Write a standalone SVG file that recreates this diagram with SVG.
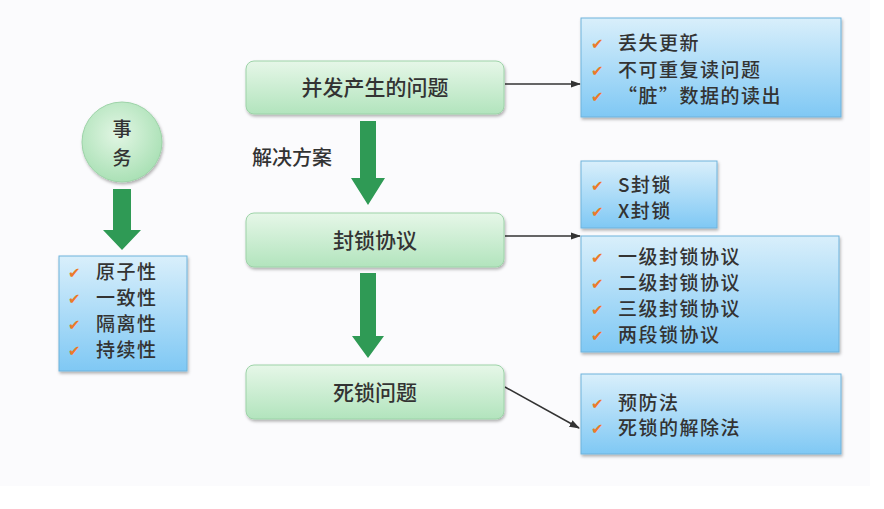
<svg xmlns="http://www.w3.org/2000/svg" width="884" height="509" viewBox="0 0 884 509">
<defs>
  <linearGradient id="gGreen" x1="0" y1="0" x2="0" y2="1">
    <stop offset="0" stop-color="#e6f7e8"/>
    <stop offset="1" stop-color="#b2e4bd"/>
  </linearGradient>
  <linearGradient id="gBlue" x1="0" y1="0" x2="0" y2="1">
    <stop offset="0" stop-color="#d9effb"/>
    <stop offset="1" stop-color="#7fc8f4"/>
  </linearGradient>
  <radialGradient id="gCircle" cx="0.45" cy="0.4" r="0.65">
    <stop offset="0" stop-color="#e2f6e4"/>
    <stop offset="1" stop-color="#a6dfb2"/>
  </radialGradient>
  <filter id="shadow" x="-10%" y="-10%" width="125%" height="130%">
    <feDropShadow dx="1" dy="2" stdDeviation="1.5" flood-color="#000" flood-opacity="0.3"/>
  </filter>
  <marker id="arrow" viewBox="0 0 10 10" refX="9" refY="5" markerWidth="7" markerHeight="7" orient="auto">
    <path d="M0,1.5 L10,5 L0,8.5 z" fill="#333"/>
  </marker>
</defs>
<style>
  .bg { fill: #fbfbfd; }
  .gbox { fill: url(#gGreen); stroke: #9dd3a8; stroke-width: 1; filter: url(#shadow); }
  .bbox { fill: url(#gBlue); stroke: #6fb3dc; stroke-width: 1; filter: url(#shadow); }
  .txt { font-family: "Noto Sans CJK SC", "Liberation Sans", sans-serif; fill: #333; font-weight: 500; }
  .title { font-size: 21px; text-anchor: middle; }
  .item { font-size: 19px; letter-spacing: 1.5px; }
  .chk { font-family: "DejaVu Sans", sans-serif; font-size: 15px; fill: #ec7a2a; }
  .garrow { fill: #2f9a55; }
  .line { stroke: #333; stroke-width: 1.5; fill: none; marker-end: url(#arrow); }
</style>
<rect x="0" y="0" width="884" height="509" fill="#ffffff"/>
<rect class="bg" x="0" y="0" width="870" height="486"/>

<g id="connectors">
  <line class="line" x1="505" y1="84" x2="580" y2="84"/>
  <line class="line" x1="505" y1="236" x2="580" y2="236"/>
  <line class="line" x1="505" y1="387" x2="579" y2="428"/>
  <path class="garrow" d="M113,189 H131 V230 H141 L122,250 L103,230 H113 Z"/>
  <path class="garrow" d="M360,121 H376 V178 H385 L368,205 L351,178 H360 Z"/>
  <path class="garrow" d="M360,273 H376 V336 H384 L368,358 L352,336 H360 Z"/>
  <text class="txt" x="252" y="165" font-size="20">解决方案</text>
</g>

<g id="node-transaction">
  <circle cx="122" cy="142" r="40" fill="url(#gCircle)" stroke="#9dd3a8" stroke-width="1" filter="url(#shadow)"/>
  <text class="txt" x="122" y="136" font-size="19" text-anchor="middle">事</text>
  <text class="txt" x="122" y="165" font-size="19" text-anchor="middle">务</text>
</g>

<g id="node-acid">
  <rect class="bbox" x="59" y="256" width="128" height="115"/>
  <text class="chk" x="68" y="278">✔</text><text class="txt item" x="96" y="279">原子性</text>
  <text class="chk" x="68" y="304">✔</text><text class="txt item" x="96" y="305">一致性</text>
  <text class="chk" x="68" y="330">✔</text><text class="txt item" x="96" y="331">隔离性</text>
  <text class="chk" x="68" y="356">✔</text><text class="txt item" x="96" y="357">持续性</text>
</g>

<g id="node-concurrency">
  <rect class="gbox" x="246" y="61" width="258" height="53" rx="8"/>
  <text class="txt title" x="375" y="95">并发产生的问题</text>
</g>

<g id="node-problems">
  <rect class="bbox" x="581" y="18" width="260" height="99"/>
  <text class="chk" x="591" y="49">✔</text><text class="txt item" x="618" y="50">丢失更新</text>
  <text class="chk" x="591" y="76">✔</text><text class="txt item" x="618" y="77">不可重复读问题</text>
  <text class="chk" x="591" y="102">✔</text><text class="txt item" x="618" y="103">“脏”数据的读出</text>
</g>

<g id="node-locking">
  <rect class="gbox" x="246" y="213" width="258" height="54" rx="8"/>
  <text class="txt title" x="375" y="248">封锁协议</text>
</g>

<g id="node-locks">
  <rect class="bbox" x="581" y="161" width="136" height="67"/>
  <text class="chk" x="591" y="191">✔</text><text class="txt item" x="618" y="192">S封锁</text>
  <text class="chk" x="591" y="217">✔</text><text class="txt item" x="618" y="218">X封锁</text>
</g>

<g id="node-protocols">
  <rect class="bbox" x="581" y="236" width="258" height="116"/>
  <text class="chk" x="591" y="263">✔</text><text class="txt item" x="618" y="264">一级封锁协议</text>
  <text class="chk" x="591" y="289">✔</text><text class="txt item" x="618" y="290">二级封锁协议</text>
  <text class="chk" x="591" y="315">✔</text><text class="txt item" x="618" y="316">三级封锁协议</text>
  <text class="chk" x="591" y="341">✔</text><text class="txt item" x="618" y="342">两段锁协议</text>
</g>

<g id="node-deadlock">
  <rect class="gbox" x="246" y="365" width="258" height="54" rx="8"/>
  <text class="txt title" x="375" y="400">死锁问题</text>
</g>

<g id="node-solutions">
  <rect class="bbox" x="581" y="374" width="260" height="80"/>
  <text class="chk" x="591" y="409">✔</text><text class="txt item" x="618" y="410">预防法</text>
  <text class="chk" x="591" y="434">✔</text><text class="txt item" x="618" y="435">死锁的解除法</text>
</g>
</svg>
